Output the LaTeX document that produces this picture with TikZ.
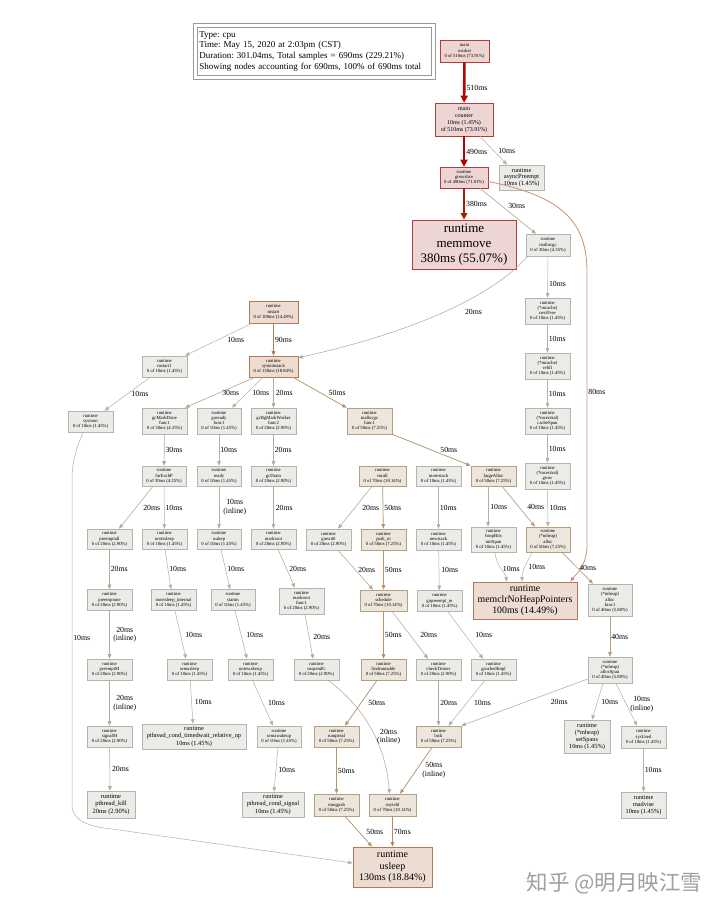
\documentclass[tikz,border=0pt]{standalone}
\usepackage{fontspec}
\setmainfont{Liberation Serif}
\newfontfamily\cjkfont{Noto Sans CJK SC}
\usetikzlibrary{arrows.meta}
\frenchspacing
\definecolor{ngF}{HTML}{EBEBE8}
\definecolor{ngD}{HTML}{B4B4AC}
\definecolor{ntF}{HTML}{EDE6DD}
\definecolor{ntD}{HTML}{B4A080}
\definecolor{noF}{HTML}{EDDCD2}
\definecolor{noD}{HTML}{B47A58}
\definecolor{nrF}{HTML}{EDD5D4}
\definecolor{nrD}{HTML}{B43C3C}
\definecolor{cA}{HTML}{B2B0A8}
\definecolor{cB}{HTML}{B2AB9C}
\definecolor{cC}{HTML}{B2A692}
\definecolor{cD}{HTML}{B2A086}
\definecolor{cE}{HTML}{B29670}
\definecolor{cF}{HTML}{B28C60}
\definecolor{cG}{HTML}{C49478}
\definecolor{cH}{HTML}{B27E4C}
\definecolor{cR}{HTML}{B21A00}
\definecolor{cS}{HTML}{B20500}
\definecolor{wm}{HTML}{A0A0A0}
\begin{document}
\begin{tikzpicture}[x=1pt,y=-1pt,
 box/.style={draw, rectangle, align=center, inner sep=0.8pt, line width=0.6pt, font=\fontsize{4.7}{5.2}\selectfont},
 ngray/.style={box, fill=ngF, draw=ngD},
 ntan/.style={box, fill=ntF, draw=ntD},
 nora/.style={box, fill=noF, draw=noD},
 nred/.style={box, fill=nrF, draw=nrD},
 wh/.style 2 args={minimum width=#1pt, minimum height=#2pt},
 fs/.style 2 args={font=\fontsize{#1}{#2}\selectfont},
 ed/.style={-{Triangle[length=4.5pt,width=3.6pt]}, line width=0.5pt},
 e10/.style={ed, draw=cA},
 e20/.style={ed, draw=cB, line width=0.55pt},
 e30/.style={ed, draw=cC, line width=0.6pt},
 e40/.style={ed, draw=cD, line width=0.65pt},
 e50/.style={ed, draw=cE, line width=0.75pt},
 e70/.style={ed, draw=cF, line width=0.85pt},
 e80/.style={ed, draw=cG, line width=0.8pt},
 e90/.style={ed, draw=cH, line width=1pt},
 e380/.style={-{Triangle[length=6.5pt,width=6.5pt]}, draw=cR, line width=2.3pt},
 eR/.style={-{Triangle[length=7pt,width=7pt]}, draw=cS, line width=2.6pt},
 lab/.style={fs={7.8}{8.6}, anchor=west, inner sep=1pt, align=center},
]
\useasboundingbox (0,0) rectangle (720,913);
\fill[white] (0,0) rectangle (720,913);

% legend
\node[draw=gray!80, line width=0.7pt, double, double distance=3pt, fill=white, align=left, anchor=north west, inner xsep=4pt, inner ysep=3pt, text width=230pt, minimum height=52pt, fs={9}{10.7}] (legend) at (195,25) {Type: cpu\\Time: May 15, 2020 at 2:03pm (CST)\\Duration: 301.04ms, Total samples = 690ms (229.21\%)\\Showing nodes accounting for 690ms, 100\% of 690ms total};

% top / right column
\node[nred, wh={49}{22}] (worker) at (464.5,51) {main\\worker\\0 of 510ms (73.91\%)};
\node[nred, wh={58}{33}, fs={6}{7.2}] (counter) at (464,119.5) {main\\counter\\10ms (1.45\%)\\of 510ms (73.91\%)};
\node[ngray, wh={45}{25}, fs={6.3}{6.8}] (async) at (521.5,177.5) {runtime\\asyncPreempt\\10ms (1.45\%)};
\node[nred, wh={48}{21}] (grow) at (464,177.5) {runtime\\growslice\\0 of 490ms (71.01\%)};
\node[nred, wh={104}{49}, fs={13}{15}, line width=0.8pt] (memmove) at (464,244.5) {runtime\\memmove\\380ms (55.07\%)};
\node[ngray, wh={44}{22}] (mallocgc) at (548,245) {runtime\\mallocgc\\0 of 30ms (4.35\%)};
\node[ngray, wh={45}{26}] (nextfree) at (547.5,311) {runtime\\(*mcache)\\nextFree\\0 of 10ms (1.45\%)};
\node[ngray, wh={45}{26}] (refill) at (547.5,366) {runtime\\(*mcache)\\refill\\0 of 10ms (1.45\%)};
\node[ngray, wh={45}{26}] (cachespan) at (547.5,421) {runtime\\(*mcentral)\\cacheSpan\\0 of 10ms (1.45\%)};
\node[ngray, wh={45}{26}] (mcgrow) at (547.5,476) {runtime\\(*mcentral)\\grow\\0 of 10ms (1.45\%)};
\node[ntan, wh={44}{25}] (mhalloc) at (548,539.5) {runtime\\(*mheap)\\alloc\\0 of 50ms (7.25\%)};
\node[ngray, wh={45}{25}] (initspan) at (493.5,539.5) {runtime\\heapBits\\initSpan\\0 of 10ms (1.45\%)};
\node[nora, wh={104}{37}, fs={9.8}{11}, line width=0.8pt] (memclr) at (525,600.5) {runtime\\memclrNoHeapPointers\\100ms (14.49\%)};
\node[ngray, wh={44}{32}] (allocf1) at (610,600) {runtime\\(*mheap)\\alloc\\func1\\0 of 40ms (5.80\%)};
\node[ngray, wh={44}{26}] (allocspan) at (610,670) {runtime\\(*mheap)\\allocSpan\\0 of 40ms (5.80\%)};
\node[ngray, wh={46}{33}, fs={6.3}{6.8}] (setspans) at (587,736.5) {runtime\\(*mheap)\\setSpans\\10ms (1.45\%)};
\node[ngray, wh={45}{22}] (sysused) at (643.5,737) {runtime\\sysUsed\\0 of 10ms (1.45\%)};
\node[ngray, wh={45}{26}, fs={6.3}{6.8}] (madvise) at (643.5,805) {runtime\\madvise\\10ms (1.45\%)};

% left part
\node[nora, wh={49}{22}] (mstart) at (273.5,312) {runtime\\mstart\\0 of 100ms (14.49\%)};
\node[ngray, wh={45}{21}] (mstart1) at (164.5,366.5) {runtime\\mstart1\\0 of 10ms (1.45\%)};
\node[nora, wh={49}{21}] (sysstack) at (273.5,366.5) {runtime\\systemstack\\0 of 130ms (18.84\%)};
\node[ngray, wh={45}{21}] (sysmon) at (90.5,421.5) {runtime\\sysmon\\0 of 10ms (1.45\%)};
\node[ngray, wh={45}{26}] (gcmd) at (164.5,421) {runtime\\gcMarkDone\\func1\\0 of 30ms (4.35\%)};
\node[ngray, wh={44}{26}] (goready) at (219,421) {runtime\\goready\\func1\\0 of 10ms (1.45\%)};
\node[ngray, wh={45}{26}] (gcbg) at (273.5,421) {runtime\\gcBgMarkWorker\\func2\\0 of 20ms (2.90\%)};
\node[ntan, wh={45}{26}] (mgcf1) at (369.5,421) {runtime\\mallocgc\\func1\\0 of 50ms (7.25\%)};

\node[ngray, wh={44}{20}] (foreachp) at (164,476) {runtime\\forEachP\\0 of 30ms (4.35\%)};
\node[ngray, wh={44}{20}] (ready) at (219,476) {runtime\\ready\\0 of 10ms (1.45\%)};
\node[ngray, wh={45}{20}] (gcdrain) at (273.5,476) {runtime\\gcDrain\\0 of 20ms (2.90\%)};
\node[ntan, wh={47}{20}] (mcall) at (382.5,476) {runtime\\mcall\\0 of 70ms (10.14\%)};
\node[ngray, wh={45}{20}] (morestack) at (438.5,476) {runtime\\morestack\\0 of 10ms (1.45\%)};
\node[ntan, wh={45}{20}] (largealloc) at (493.5,476) {runtime\\largeAlloc\\0 of 50ms (7.25\%)};

\node[ngray, wh={45}{20}] (preemptall) at (109.5,539) {runtime\\preemptall\\0 of 20ms (2.90\%)};
\node[ngray, wh={45}{20}] (notetsleep) at (164.5,539) {runtime\\notetsleep\\0 of 10ms (1.45\%)};
\node[ngray, wh={44}{20}] (wakep) at (219,539) {runtime\\wakep\\0 of 10ms (1.45\%)};
\node[ngray, wh={45}{20}] (markroot) at (273.5,539) {runtime\\markroot\\0 of 20ms (2.90\%)};
\node[ngray, wh={45}{21}] (goexit0) at (328.5,539.5) {runtime\\goexit0\\0 of 20ms (2.90\%)};
\node[ntan, wh={45}{21}] (parkm) at (383.5,539.5) {runtime\\park\_m\\0 of 50ms (7.25\%)};
\node[ngray, wh={45}{21}] (newstack) at (438.5,539.5) {runtime\\newstack\\0 of 10ms (1.45\%)};

\node[ngray, wh={45}{21}] (preemptone) at (109.5,600) {runtime\\preemptone\\0 of 20ms (2.90\%)};
\node[ngray, wh={45}{21}] (notetsleepint) at (173.5,600) {runtime\\notetsleep\_internal\\0 of 10ms (1.45\%)};
\node[ngray, wh={44}{21}] (startm) at (233,600) {runtime\\startm\\0 of 10ms (1.45\%)};
\node[ngray, wh={45}{26}] (markrootf1) at (301.5,601) {runtime\\markroot\\func1\\0 of 20ms (2.90\%)};
\node[ntan, wh={47}{21}] (schedule) at (383.5,600.5) {runtime\\schedule\\0 of 70ms (10.14\%)};
\node[ngray, wh={45}{21}] (gopreempt) at (439.5,601) {runtime\\gopreempt\_m\\0 of 10ms (1.45\%)};

\node[ngray, wh={45}{21}] (preemptM) at (109.5,669.5) {runtime\\preemptM\\0 of 20ms (2.90\%)};
\node[ngray, wh={45}{21}] (semasleep) at (189.5,669.5) {runtime\\semasleep\\0 of 10ms (1.45\%)};
\node[ngray, wh={45}{21}] (notewakeup) at (250.5,669.5) {runtime\\notewakeup\\0 of 10ms (1.45\%)};
\node[ngray, wh={45}{21}] (suspendG) at (316.5,669.5) {runtime\\suspendG\\0 of 20ms (2.90\%)};
\node[ntan, wh={45}{21}] (findrunnable) at (383.5,669.5) {runtime\\findrunnable\\0 of 50ms (7.25\%)};
\node[ngray, wh={45}{21}] (checktimers) at (438.5,669.5) {runtime\\checkTimers\\0 of 20ms (2.90\%)};
\node[ngray, wh={45}{21}] (goschedimpl) at (493.5,669.5) {runtime\\goschedImpl\\0 of 10ms (1.45\%)};

\node[ngray, wh={45}{21}] (signalM) at (109.5,736.5) {runtime\\signalM\\0 of 20ms (2.90\%)};
\node[ngray, wh={104}{25}, fs={6.3}{7.2}] (timedwait) at (194,736.5) {runtime\\pthread\_cond\_timedwait\_relative\_np\\10ms (1.45\%)};
\node[ngray, wh={44}{21}] (semawakeup) at (279,736.5) {runtime\\semawakeup\\0 of 10ms (1.45\%)};
\node[ntan, wh={45}{21}] (runqsteal) at (336.5,736.5) {runtime\\runqsteal\\0 of 50ms (7.25\%)};
\node[ntan, wh={45}{21}] (lock) at (438.5,736.5) {runtime\\lock\\0 of 50ms (7.25\%)};

\node[ngray, wh={48}{27}, fs={6.5}{7.4}] (pthreadkill) at (111,804.5) {runtime\\pthread\_kill\\20ms (2.90\%)};
\node[ngray, wh={62}{25}, fs={6.3}{7.2}] (condsignal) at (273,804.5) {runtime\\pthread\_cond\_signal\\10ms (1.45\%)};
\node[ntan, wh={45}{22}] (runqgrab) at (336.5,805) {runtime\\runqgrab\\0 of 50ms (7.25\%)};
\node[ntan, wh={47}{22}] (osyield) at (392.5,805) {runtime\\osyield\\0 of 70ms (10.14\%)};
\node[nora, wh={79}{40}, fs={10}{11.7}, line width=0.8pt] (usleep) at (392.5,867) {runtime\\usleep\\130ms (18.84\%)};

\node[text=wm, font=\cjkfont\fontsize{21.5}{21.5}\selectfont] (wmark) at (614.5,883) {知乎 @明月映江雪};

% edges: top
\draw[eR] (worker) -- node[lab, yshift=-5pt]{510ms} (counter);
\draw[eR] (counter) -- node[lab]{490ms} (grow);
\draw[e10] ([xshift=16pt]counter.south) -- node[lab, xshift=3.5pt]{10ms} ([xshift=-14.5pt]async.north);
\draw[e380] (grow) -- node[lab]{380ms} (memmove);
\draw[e30] ([xshift=16pt]grow.south) -- node[lab, xshift=-1pt, yshift=5pt]{30ms} ([xshift=-12pt]mallocgc.north);
\draw[e80] ([yshift=-4pt]grow.east) .. controls (560,196) and (587,220) .. (587,272) -- node[lab, pos=0.44]{80ms} (587,545) .. controls (587,566) and (576,574) .. ([xshift=-7pt]memclr.north east);
\draw[e10] (mallocgc) -- node[lab, yshift=-7pt]{10ms} (nextfree);
\draw[e10] (nextfree) -- node[lab]{10ms} (refill);
\draw[e10] (refill) -- node[lab]{10ms} (cachespan);
\draw[e10] (cachespan) -- node[lab]{10ms} (mcgrow);
\draw[e10] (mcgrow) -- node[lab, xshift=0.5pt]{10ms} (mhalloc);
\draw[e20] ([xshift=2pt]mallocgc.south west) .. controls (480,310) and (370,342) .. ([yshift=-2pt]sysstack.north east) node[lab, pos=0.33, anchor=north west, yshift=-5pt]{20ms};

% edges: left
\draw[e10] ([xshift=-21.5pt]mstart.south) -- node[lab, xshift=7.5pt]{10ms} ([xshift=20.5pt]mstart1.north);
\draw[e90] (mstart) -- node[lab]{90ms} (sysstack);
\draw[e10] ([xshift=-14.5pt]mstart1.south) -- node[lab, xshift=3pt]{10ms} ([xshift=14pt]sysmon.north);
\draw[e10] ([xshift=-7.5pt]sysmon.south) .. controls (78,445) and (72,458) .. (72,480) -- node[lab, pos=0.486]{10ms} (72,805) .. controls (72,822) and (92,827) .. (112,829) -- ([yshift=4pt]usleep.west);
\draw[e30] ([xshift=-18.5pt]sysstack.south) -- node[lab, xshift=1pt]{30ms} ([xshift=20.5pt]gcmd.north);
\draw[e10] ([xshift=-10.5pt]sysstack.south) -- node[lab, xshift=3.5pt]{10ms} ([xshift=13pt]goready.north);
\draw[e20] (sysstack) -- node[lab, xshift=1pt]{20ms} (gcbg);
\draw[e50] ([xshift=19.5pt]sysstack.south) -- node[lab, xshift=7.5pt]{50ms} (mgcf1.north west);
\draw[e30] (gcmd) -- node[lab]{30ms} (foreachp);
\draw[e10] (goready) -- node[lab]{10ms} (ready);
\draw[e20] (gcbg) -- node[lab]{20ms} (gcdrain);
\draw[e50] (mgcf1.south east) -- node[lab, xshift=7.5pt]{50ms} (largealloc.north west);

\draw[e20] ([xshift=-11pt]foreachp.south) -- node[lab, xshift=6pt]{20ms} ([xshift=9.5pt]preemptall.north);
\draw[e10] (foreachp) -- node[lab]{10ms} (notetsleep);
\draw[e10] (ready) -- node[lab, xshift=3pt]{10ms\\(inline)} (wakep);
\draw[e20] (gcdrain) -- node[lab, xshift=1pt]{20ms} (markroot);
\draw[e20] ([xshift=-10.5pt]mcall.south) -- node[lab, xshift=6pt]{20ms} ([xshift=9.5pt]goexit0.north);
\draw[e50] (mcall) -- node[lab]{50ms} (parkm);
\draw[e10] (morestack) -- node[lab]{10ms} (newstack);
\draw[e10] ([xshift=-5.5pt]largealloc.south) -- node[lab, xshift=1pt]{10ms} ([xshift=-5.5pt]initspan.north);
\draw[e40] ([xshift=8.5pt]largealloc.south) -- node[lab, xshift=7.5pt]{40ms} ([xshift=-13pt]mhalloc.north);

\draw[e20] (preemptall) -- node[lab]{20ms} (preemptone);
\draw[e10] ([xshift=0.5pt]notetsleep.south) -- node[lab]{10ms} ([xshift=-2.5pt]notetsleepint.north);
\draw[e10] ([xshift=2pt]wakep.south) -- node[lab, xshift=0.5pt]{10ms} ([xshift=-3pt]startm.north);
\draw[e20] ([xshift=4.5pt]markroot.south) -- node[lab, xshift=1.5pt]{20ms} ([xshift=-6.5pt]markrootf1.north);
\draw[e20] ([xshift=9.5pt]goexit0.south) -- node[lab, xshift=1.5pt]{20ms} ([xshift=-10.5pt]schedule.north);
\draw[e50] (parkm) -- node[lab]{50ms} (schedule);
\draw[e10] (newstack) -- node[lab, xshift=1pt]{10ms} (gopreempt);
\draw[e10] ([xshift=1.5pt]initspan.south) .. controls (496,566) and (505,572) .. ([xshift=-18pt]memclr.north) node[lab, pos=0.5, xshift=1pt]{10ms};
\draw[e10] ([xshift=-16pt]mhalloc.south) .. controls (527,563) and (522,570) .. ([xshift=-3pt]memclr.north) node[lab, pos=0.5, xshift=2pt]{10ms};
\draw[e40] ([xshift=14pt]mhalloc.south) -- node[lab, xshift=0.5pt]{40ms} ([xshift=-17pt]allocf1.north);

\draw[e20] (preemptone) -- node[lab, xshift=2.5pt]{20ms\\(inline)} (preemptM);
\draw[e10] ([xshift=1.5pt]notetsleepint.south) -- node[lab, xshift=3.5pt]{10ms} ([xshift=-3.5pt]semasleep.north);
\draw[e10] ([xshift=2pt]startm.south) -- node[lab, xshift=4pt]{10ms} ([xshift=-3.5pt]notewakeup.north);
\draw[e20] ([xshift=3.5pt]markrootf1.south) -- node[lab, xshift=3pt]{20ms} ([xshift=-3.5pt]suspendG.north);
\draw[e50] (schedule) -- node[lab]{50ms} (findrunnable);
\draw[e20] ([xshift=8.5pt]schedule.south) -- node[lab, xshift=9pt]{20ms} ([xshift=-10.5pt]checktimers.north);
\draw[e10] ([xshift=8.5pt]gopreempt.south) -- node[lab, xshift=8.5pt]{10ms} ([xshift=-10.5pt]goschedimpl.north);
\draw[e40] (allocf1) -- node[lab]{40ms} (allocspan);

\draw[e20] (preemptM) -- node[lab, xshift=2.5pt]{20ms\\(inline)} (signalM);
\draw[e10] (semasleep) -- node[lab, xshift=2pt]{10ms} ([xshift=-1pt]timedwait.north);
\draw[e10] ([xshift=2pt]notewakeup.south) -- node[lab, xshift=4pt]{10ms} ([xshift=-6pt]semawakeup.north);
\draw[e20] ([xshift=11.5pt]suspendG.south) .. controls (355,700) and (385,735) .. ([xshift=-3pt]osyield.north) node[lab, pos=0.62, xshift=1pt]{20ms\\(inline)};
\draw[e50] ([xshift=-6.5pt]findrunnable.south) -- node[lab, xshift=6pt]{50ms} ([xshift=8.5pt]runqsteal.north);
\draw[e20] (checktimers) -- node[lab, xshift=0.5pt]{20ms} (lock);
\draw[e10] ([xshift=-8.5pt]goschedimpl.south) -- node[lab, xshift=6pt]{10ms} ([xshift=10pt]lock.north);
\draw[e20] ([yshift=-9pt]allocspan.west) -- node[lab, xshift=25pt]{20ms} (lock.north east);
\draw[e10] ([xshift=-7pt]allocspan.south) -- node[lab, xshift=2.5pt]{10ms} ([xshift=5pt]setspans.north);
\draw[e10] ([xshift=6pt]allocspan.south) -- node[lab, xshift=2.5pt]{10ms\\(inline)} ([xshift=-6.5pt]sysused.north);

\draw[e20] (signalM) -- node[lab, xshift=1pt]{20ms} ([xshift=-1pt]pthreadkill.north);
\draw[e10] ([xshift=-1pt]semawakeup.south) -- node[lab, xshift=1pt]{10ms} ([xshift=1pt]condsignal.north);
\draw[e50] (runqsteal) -- node[lab]{50ms} (runqgrab);
\draw[e50] ([xshift=-6.5pt]lock.south) -- node[lab, xshift=5pt]{50ms\\(inline)} ([xshift=7.5pt]osyield.north);
\draw[e10] (sysused) -- node[lab]{10ms} (madvise);
\draw[e50] ([xshift=8.5pt]runqgrab.south) -- node[lab, xshift=6.5pt]{50ms} ([xshift=-20.5pt]usleep.north);
\draw[e70] (osyield) -- node[lab]{70ms} (usleep);
\end{tikzpicture}
\end{document}
